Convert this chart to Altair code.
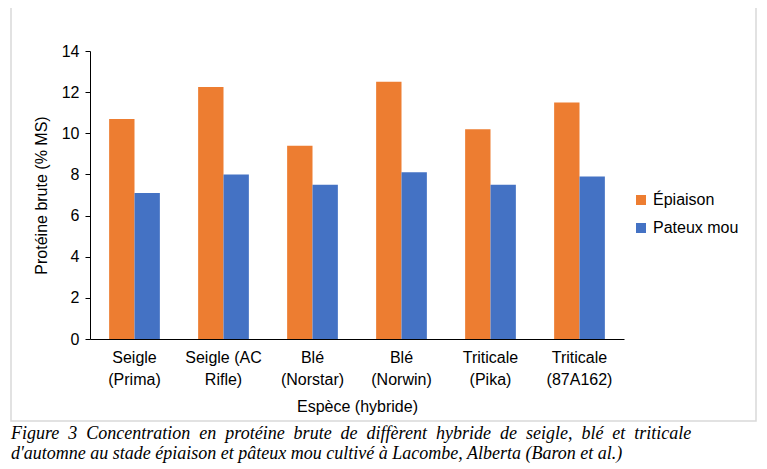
import altair as alt
import pandas as pd

categories = ["Seigle|(Prima)", "Seigle (AC|Rifle)", "Blé|(Norstar)",
              "Blé|(Norwin)", "Triticale|(Pika)", "Triticale|(87A162)"]
series = ["Épiaison", "Pateux mou"]
epiaison = [10.7, 12.25, 9.4, 12.5, 10.2, 11.5]
pateux = [7.1, 8.0, 7.5, 8.1, 7.5, 7.9]
y_ticks = [0, 2, 4, 6, 8, 10, 12, 14]
caption_line1 = "Figure 3 Concentration en protéine brute de diffèrent hybride de seigle, blé et triticale"
caption_line2 = "d'automne au stade épiaison et pâteux mou cultivé à Lacombe, Alberta (Baron et al.)"
# justified first line: wider spaces
caption = caption_line1.replace(" ", "\u2002") + "\n" + caption_line2

rows = []
for c, e, p in zip(categories, epiaison, pateux):
    rows.append({"cat": c, "serie": series[0], "val": e})
    rows.append({"cat": c, "serie": series[1], "val": p})
df = pd.DataFrame(rows)

FONT = "Liberation Sans"

bars = alt.Chart(df).mark_bar().encode(
    x=alt.X("cat:N", sort=categories, title="Espèce (hybride)",
            scale=alt.Scale(paddingInner=0.43, paddingOuter=0.215),
            axis=alt.Axis(labelExpr="split(datum.label, '|')", labelAngle=0,
                          ticks=False, domainColor="black", labelColor="black",
                          labelFont=FONT, labelFontSize=16, labelLineHeight=22,
                          labelPadding=10, titleFont=FONT, titleFontSize=16,
                          titleFontWeight="normal", titleColor="black", titlePadding=11)),
    xOffset=alt.XOffset("serie:N", sort=series),
    y=alt.Y("val:Q", title="Protéine brute (% MS)",
            scale=alt.Scale(domain=[0, 14], nice=False),
            axis=alt.Axis(values=y_ticks, grid=False, domainColor="black", tickColor="black",
                          tickSize=5, labelColor="black", labelFont=FONT, labelFontSize=16,
                          labelPadding=6, titleFont=FONT, titleFontSize=16,
                          titleFontWeight="normal", titleColor="black", titlePadding=12)),
    color=alt.Color("serie:N", sort=series,
                    scale=alt.Scale(domain=series, range=["#ED7D31", "#4472C4"]),
                    legend=alt.Legend(title=None, orient="none", legendX=543, legendY=141,
                                      symbolType="square", symbolSize=100, symbolStrokeWidth=0,
                                      labelFont=FONT, labelFontSize=16, labelColor="black",
                                      rowPadding=12, labelOffset=4)),
)

frame = alt.Chart(pd.DataFrame({"a": [0]})).mark_rect(
    fillOpacity=0, stroke="#d9d9d9", strokeWidth=1.5
).encode(x=alt.value(-79), x2=alt.value(666), y=alt.value(-45), y2=alt.value(370))

cap = alt.Chart(pd.DataFrame({"t": [caption]})).mark_text(
    align="left", baseline="alphabetic", font="Liberation Serif", fontStyle="italic",
    fontSize=18, lineBreak="\n", lineHeight=20, color="black"
).encode(text="t:N", x=alt.value(-79), y=alt.value(388))

chart = alt.layer(frame, bars, cap).properties(
    width=534, height=288,
    autosize=alt.AutoSizeParams(type="none"),
    padding={"left": 82, "top": 43, "right": 135, "bottom": 130},
).configure_view(stroke=None)

chart.save("out.html", embed_options={"renderer": "svg", "actions": False})
